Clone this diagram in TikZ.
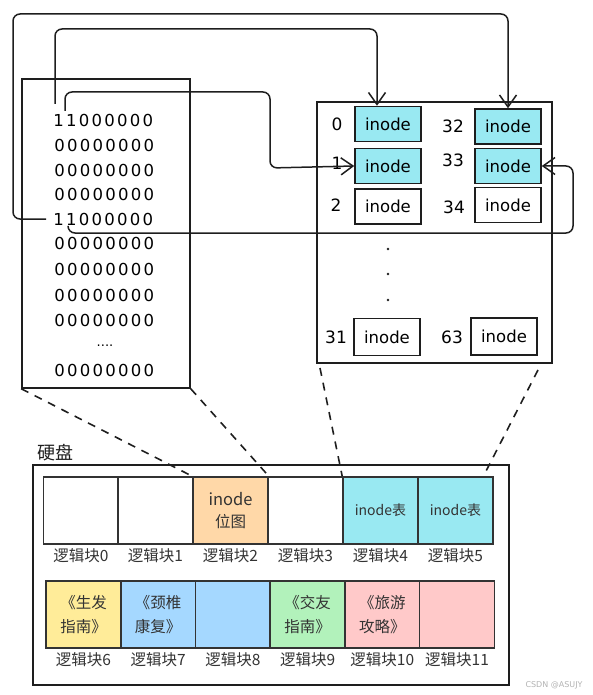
\documentclass[tikz,border=0pt]{standalone}
\usepackage{fontspec}
\setmainfont{DejaVu Sans}
\newfontfamily\cjk{Noto Sans CJK SC}
\usetikzlibrary{arrows.meta}
\definecolor{cyanf}{HTML}{99E9F2}
\definecolor{orangef}{HTML}{FFD8A8}
\definecolor{yellowf}{HTML}{FFEC99}
\definecolor{bluef}{HTML}{A5D8FF}
\definecolor{greenf}{HTML}{B2F2BB}
\definecolor{pinkf}{HTML}{FFC9C9}
\definecolor{ink}{HTML}{1E1E1E}
\definecolor{blkline}{HTML}{333333}
\newcommand\bitrow[1]{\bitloop#1\relax}
\def\bitloop#1{\ifx#1\relax\else\makebox[12.75pt]{#1}\expandafter\bitloop\fi}
\begin{document}
\begin{tikzpicture}[x=1pt,y=-1pt,
  sk/.style={draw=ink,line width=1.5pt},
  cell/.style={sk,minimum width=66pt,minimum height=35pt,inner sep=0pt,font=\fontsize{16.5}{18}\selectfont},
  num/.style={inner sep=0pt,font=\fontsize{17}{19}\selectfont},
  bits/.style={anchor=west,inner sep=0pt,font=\fontsize{16.5}{18}\selectfont},
  arr/.style={draw=ink,line width=1.5pt,rounded corners=7pt,-{Straight Barb[length=12pt,width=17pt,line width=1.5pt]}},
  dsh/.style={draw=ink,line width=1.6pt,dash pattern=on 8pt off 7pt},
  blk/.style={draw=blkline,line width=1.6pt,minimum width=75pt,minimum height=67pt,inner sep=0pt,align=center,font=\cjk\fontsize{15.5}{24}\selectfont,text=blkline},
  lbl/.style={inner sep=0pt,font=\cjk\fontsize{15.5}{17}\selectfont,text=blkline}
]
\useasboundingbox (0,0) rectangle (592,695);

% bitmap block
\node[sk,minimum width=168pt,minimum height=309pt,inner sep=0pt] (bm) at (106,233.5) {};
\node[bits] (r0) at (52,120) {\bitrow{11000000}};
\node[bits] (r1) at (53,145) {\bitrow{00000000}};
\node[bits] (r2) at (53,170) {\bitrow{00000000}};
\node[bits] (r3) at (53,194) {\bitrow{00000000}};
\node[bits] (r4) at (52,219) {\bitrow{11000000}};
\node[bits] (r5) at (53,243) {\bitrow{00000000}};
\node[bits] (r6) at (53,269) {\bitrow{00000000}};
\node[bits] (r7) at (53,295) {\bitrow{00000000}};
\node[bits] (r8) at (53,320) {\bitrow{00000000}};
\node[inner sep=0pt,font=\fontsize{13}{14}\selectfont] (rd) at (105,346) {....};
\node[bits] (r9) at (53,370) {\bitrow{00000000}};

% inode table
\node[sk,minimum width=235pt,minimum height=261pt,inner sep=0pt] (it) at (434.5,232.5) {};
\node[cell,fill=cyanf] (c0) at (388,124) {inode};
\node[cell,fill=cyanf] (c1) at (388,166) {inode};
\node[cell] (c2) at (388,206.5) {inode};
\node[cell,fill=cyanf] (c32) at (508,126.5) {inode};
\node[cell,fill=cyanf] (c33) at (508,166) {inode};
\node[cell] (c34) at (508,205) {inode};
\node[cell,minimum height=37pt] (c31) at (387,337) {inode};
\node[cell,minimum height=37pt] (c63) at (504,336.5) {inode};
\node[num] (n0) at (337,124) {0};
\node[num] (n1) at (337,163) {1};
\node[num] (n2) at (336,205) {2};
\node[num] (n32) at (453,126) {32};
\node[num] (n33) at (453,160) {33};
\node[num] (n34) at (454,207) {34};
\node[num] (n31) at (336,337) {31};
\node[num] (n63) at (452,337) {63};
\fill[ink] (388,249) circle (1.4pt) (388,274) circle (1.4pt) (388,300) circle (1.4pt);

% arrows from bits to inodes
\coordinate (s0) at (55,104);
\coordinate (s1) at (65,111);
\coordinate (s32) at (46,219);
\coordinate (s33) at (68,227);
\coordinate (x377) at (377,0);
\draw[arr] (s32) -- (13,219) -- (13,14) -- (508,14) -- (c32.north);
\draw[arr] (s0) -- (55,29) -- (377,29) -- (c0.north -| x377);
\draw[arr] (s1) -- (65,92) -- (270,92) -- (270,168) -- (c1.west);
\draw[arr] (s33) -- (68,233) -- (573,233) -- (573,166) -- (c33.east);

% disk
\node[draw=ink,line width=1.4pt,minimum width=476pt,minimum height=220pt,inner sep=0pt] (disk) at (271,575) {};
\node[anchor=west,inner sep=0pt,font=\cjk\fontsize{18}{20}\selectfont,text=ink] (dl) at (37,453) {硬盘};

\node[blk] (k0) at (81,510.5) {};
\node[blk] (k1) at (155.5,510.5) {};
\node[blk,fill=orangef] (k2) at (230.5,510.5) {{\fontsize{16.5}{18}\selectfont inode}\\[-2pt]位图};
\node[blk] (k3) at (305.5,510.5) {};
\node[blk,fill=cyanf] (k4) at (380.5,510.5) {\fontsize{14}{15}\selectfont inode表};
\node[blk,fill=cyanf] (k5) at (455.5,510.5) {\fontsize{14}{15}\selectfont inode表};
\node[lbl] (l0) at (81,556) {逻辑块0};
\node[lbl] (l1) at (155.5,556) {逻辑块1};
\node[lbl] (l2) at (230.5,556) {逻辑块2};
\node[lbl] (l3) at (305.5,556) {逻辑块3};
\node[lbl] (l4) at (380.5,556) {逻辑块4};
\node[lbl] (l5) at (455.5,556) {逻辑块5};

\node[blk,fill=yellowf] (k6) at (83.5,614.5) {《生发\\指南》};
\node[blk,fill=bluef] (k7) at (158.2,614.5) {《颈椎\\康复》};
\node[blk,fill=bluef] (k8) at (232.9,614.5) {};
\node[blk,fill=greenf] (k9) at (307.6,614.5) {《交友\\指南》};
\node[blk,fill=pinkf] (k10) at (382.3,614.5) {《旅游\\攻略》};
\node[blk,fill=pinkf] (k11) at (457,614.5) {};
\node[lbl] (l6) at (83.5,660) {逻辑块6};
\node[lbl] (l7) at (158.2,660) {逻辑块7};
\node[lbl] (l8) at (232.9,660) {逻辑块8};
\node[lbl] (l9) at (307.6,660) {逻辑块9};
\node[lbl] (l10) at (382.3,660) {逻辑块10};
\node[lbl] (l11) at (457,660) {逻辑块11};

% dashed projection lines
\coordinate (t1) at (320,368);
\coordinate (t2) at (538,370);
\coordinate (t2e) at (484,475);
\draw[dsh] (bm.south west) -- (k2.north west);
\draw[dsh] (bm.south east) -- (k2.north east);
\draw[dsh] (t1) -- (k4.north west);
\draw[dsh] (t2) -- (t2e);

\node[inner sep=0pt,text=black!30,font=\fontsize{8}{9}\selectfont] (wm) at (554,685) {CSDN @ASUJY};
\end{tikzpicture}
\end{document}
